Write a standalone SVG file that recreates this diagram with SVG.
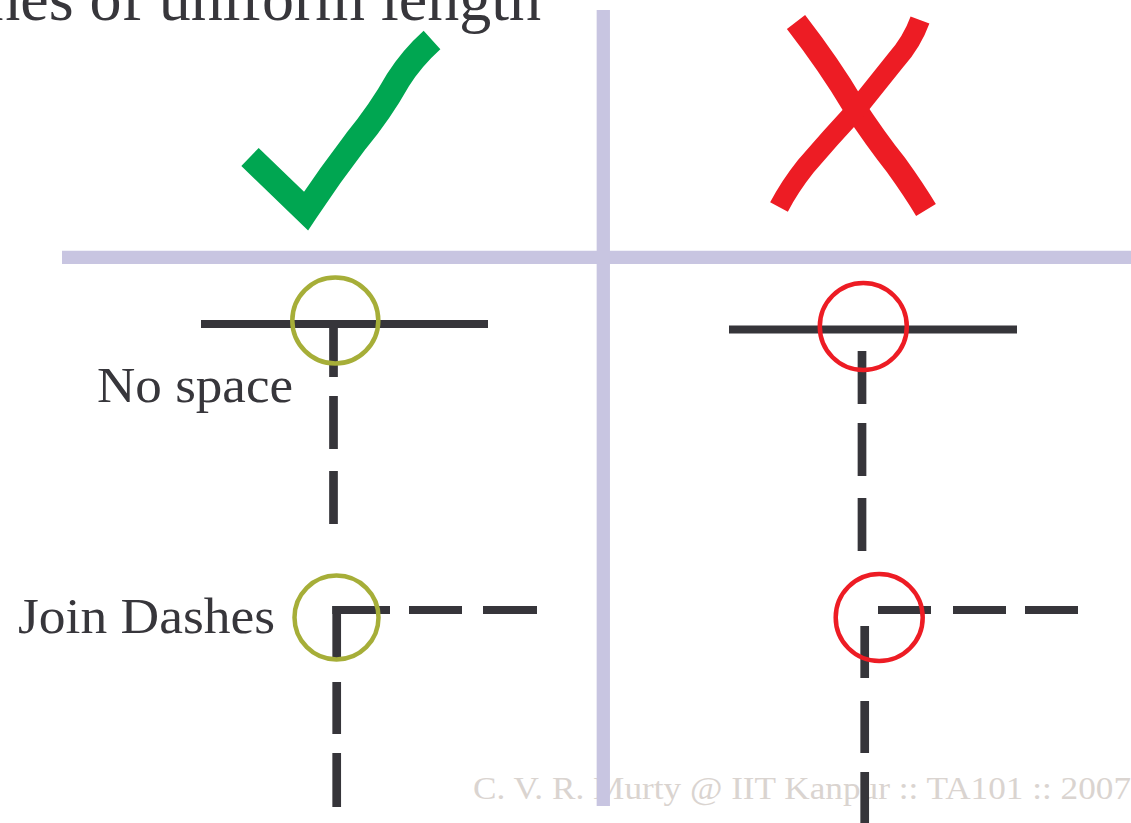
<svg xmlns="http://www.w3.org/2000/svg" width="1131" height="823" viewBox="0 0 1131 823">
<style>
.lbl{font-family:"Liberation Serif","Times New Roman",serif;fill:#37363b}
.wm{font-family:"Liberation Serif","Times New Roman",serif;fill:#dad4d0}
.grid{stroke:#c8c5e1;stroke-width:13.3;fill:none}
.ln{stroke:#36353a;fill:none;stroke-linecap:butt}
.h{stroke-width:8}
.v{stroke-width:8.7}
.ok{fill:none;stroke:#a6ae38;stroke-width:4.5}
.bad{fill:none;stroke:#ed1c24;stroke-width:4.5}
.mark{fill:none;stroke-linecap:butt;stroke-linejoin:miter;stroke-miterlimit:6}
</style>
<rect width="1131" height="823" fill="#ffffff"/>
<g id="watermark">
<text class="wm" x="473" y="799" font-size="32" textLength="658" lengthAdjust="spacingAndGlyphs">C. V. R. Murty @ IIT Kanpur :: TA101 :: 2007</text>
</g>
<g id="title">
<text class="lbl" x="541" y="20" font-size="64" text-anchor="end">lines of uniform length</text>
</g>
<g id="grid">
<line class="grid" x1="603.3" y1="10" x2="603.3" y2="806"/>
<line class="grid" x1="62" y1="257.3" x2="1131" y2="257.3"/>
</g>
<g id="tick">
<path class="mark" stroke="#00a651" stroke-width="25" d="M250,157 L306,211 Q330,175 356,141 Q380,112 398,80 Q412,58 432,40"/>
</g>
<g id="cross">
<path class="mark" stroke="#ed1c24" stroke-width="23" d="M796,22 Q830,66 853,105 Q876,140 896,165 Q914,190 926,210"/>
<path class="mark" stroke="#ed1c24" stroke-width="20" d="M920,20 Q912,42 896,60 Q872,90 856,110 Q830,138 806,166 Q790,186 779,207"/>
</g>
<g id="labels">
<text class="lbl" x="97" y="402" font-size="50" textLength="196" lengthAdjust="spacingAndGlyphs">No space</text>
<text class="lbl" x="18" y="633" font-size="51" textLength="257" lengthAdjust="spacingAndGlyphs">Join Dashes</text>
</g>
<g id="connectors">
<g id="good-T">
<line class="ln h" x1="201" y1="324" x2="488" y2="324"/>
<line class="ln v" x1="333.5" y1="324" x2="333.5" y2="377"/>
<line class="ln v" x1="333.5" y1="396" x2="333.5" y2="449"/>
<line class="ln v" x1="333.5" y1="471" x2="333.5" y2="524"/>
</g>
<g id="bad-T">
<line class="ln h" x1="729" y1="329.5" x2="1017" y2="329.5"/>
<line class="ln v" x1="862" y1="351" x2="862" y2="404"/>
<line class="ln v" x1="862" y1="423" x2="862" y2="476"/>
<line class="ln v" x1="862" y1="498" x2="862" y2="551"/>
</g>
<g id="good-L">
<line class="ln v" x1="336.7" y1="606" x2="336.7" y2="658"/>
<line class="ln v" x1="336.7" y1="682" x2="336.7" y2="734"/>
<line class="ln v" x1="336.7" y1="753" x2="336.7" y2="807"/>
<line class="ln h" x1="332.3" y1="610" x2="390" y2="610"/>
<line class="ln h" x1="409" y1="610" x2="462" y2="610"/>
<line class="ln h" x1="483" y1="610" x2="537" y2="610"/>
</g>
<g id="bad-L">
<line class="ln h" x1="878" y1="610" x2="931" y2="610"/>
<line class="ln h" x1="953" y1="610" x2="1006" y2="610"/>
<line class="ln h" x1="1025" y1="610" x2="1078" y2="610"/>
<line class="ln v" x1="864.7" y1="626" x2="864.7" y2="678"/>
<line class="ln v" x1="864.7" y1="701" x2="864.7" y2="753"/>
<line class="ln v" x1="864.7" y1="772" x2="864.7" y2="823"/>
</g>
</g>
<g id="circles">
<circle id="c-good-top" class="ok" cx="335.3" cy="320.5" r="43"/>
<circle id="c-good-bottom" class="ok" cx="336.5" cy="617.5" r="42"/>
<circle id="c-bad-top" class="bad" cx="863.3" cy="326.5" r="43.5"/>
<circle id="c-bad-bottom" class="bad" cx="879.2" cy="617.5" r="43.5"/>
</g>
</svg>
